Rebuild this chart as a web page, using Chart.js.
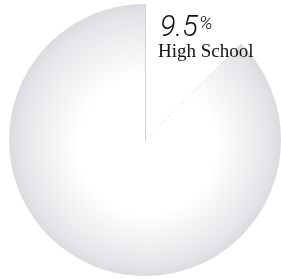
<!DOCTYPE html>
<html>
<head>
<meta charset="utf-8">
<script src="https://cdn.jsdelivr.net/npm/chart.js@4/dist/chart.umd.min.js"></script>
<style>
  html, body { margin: 0; padding: 0; background: #fff; }
  #wrap { width: 281px; height: 279px; }
</style>
</head>
<body>
<div id="wrap"><canvas id="pie"></canvas></div>
<script>
// categories and values
let categories = ['High School', 'Other'];
let labelValues = [9.5, 90.5];
// share of the circle as drawn in the picture (the cut-out wedge spans ~45 degrees)
let drawnShares = [12.5, 87.5];

let chartEl = document.getElementById('pie');

// radial grey-to-white fill for the main slice
function sliceFill(context) {
    let chart = context.chart;
    let area = chart.chartArea;
    if (!area) return '#e4e6e9';
    if (context.dataIndex === 0) return 'rgba(255,255,255,0)';
    let cx = (area.left + area.right) / 2;
    let cy = (area.top + area.bottom) / 2;
    let r = Math.min(area.right - area.left, area.bottom - area.top) / 2;
    let g = chart.ctx.createRadialGradient(cx + 4, cy + 12, 0, cx, cy, r);
    g.addColorStop(0, '#ffffff');
    g.addColorStop(0.5, '#ffffff');
    g.addColorStop(0.75, '#eff0f2');
    g.addColorStop(0.92, '#e3e5e8');
    g.addColorStop(1, '#d9dbdf');
    return g;
}

// edges of the cut-out wedge and the text label
let wedgePlugin = {
    id: 'wedge',
    afterDatasetsDraw(chart) {
        let ctx = chart.ctx;
        let arc = chart.getDatasetMeta(0).data[0];
        let cx = arc.x, cy = arc.y, r = arc.outerRadius;

        ctx.save();
        // vertical edge: thin solid grey line
        ctx.strokeStyle = '#d0d0d0';
        ctx.lineWidth = 1;
        ctx.beginPath();
        ctx.moveTo(cx + 0.5, cy);
        ctx.lineTo(cx + 0.5 + r * Math.cos(arc.startAngle), cy + r * Math.sin(arc.startAngle));
        ctx.stroke();
        // diagonal edge: faint dotted line
        ctx.strokeStyle = '#cfd1d4';
        ctx.setLineDash([1, 2]);
        ctx.beginPath();
        ctx.moveTo(cx, cy);
        ctx.lineTo(cx + r * Math.cos(arc.endAngle), cy + r * Math.sin(arc.endAngle));
        ctx.stroke();
        ctx.setLineDash([]);

        // label
        ctx.fillStyle = '#111';
        ctx.textBaseline = 'alphabetic';
        ctx.textAlign = 'left';
        let valueText = String(labelValues[0]);
        ctx.font = 'italic 300 29px Roboto, Lato, sans-serif';
        let tx = cx + 15;
        ctx.fillText(valueText, tx, cy - 104);
        let w = ctx.measureText(valueText).width;
        ctx.font = 'italic 300 19px Roboto, Lato, sans-serif';
        ctx.fillText('%', tx + w + 1, cy - 111);
        ctx.font = '19px "Liberation Serif", "DejaVu Serif", serif';
        ctx.fillText(categories[0], tx - 2, cy - 83);
        ctx.restore();
    }
};

new Chart(chartEl.getContext('2d'), {
    type: 'pie',
    data: {
        labels: categories,
        datasets: [{
            data: drawnShares,
            backgroundColor: sliceFill,
            borderWidth: 0
        }]
    },
    options: {
        responsive: true,
        maintainAspectRatio: false,
        animation: false,
        layout: { padding: { left: 9, right: 0, top: 4, bottom: 3 } },
        plugins: {
            legend: { display: false },
            tooltip: { enabled: false }
        }
    },
    plugins: [wedgePlugin]
});
</script>
</body>
</html>
